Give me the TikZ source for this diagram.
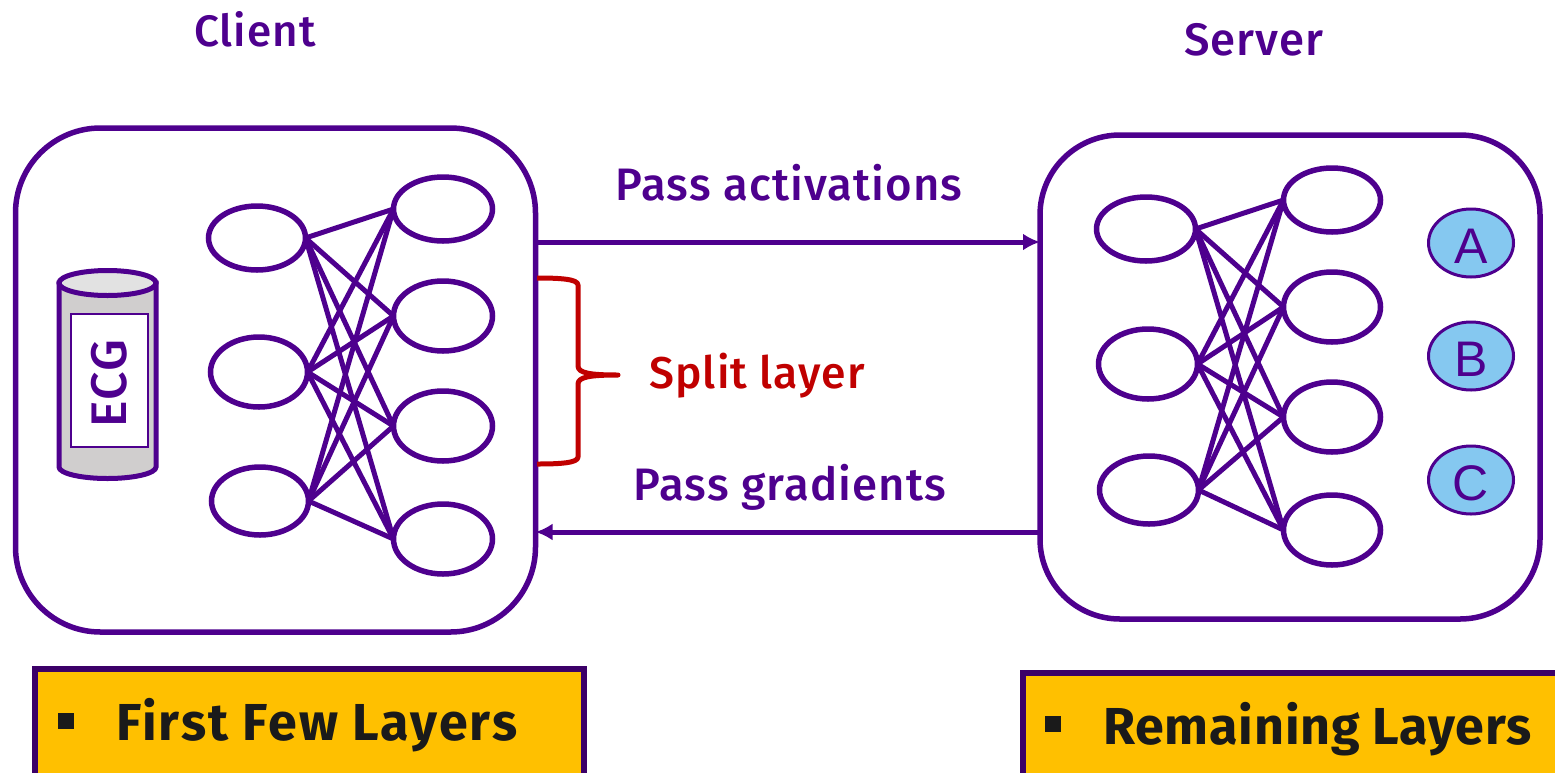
\documentclass[tikz,border=0pt]{standalone}
\usepackage{fontspec}
\setmainfont{Fira Sans Medium}[LetterSpace=2.5,BoldFont={Fira Sans Bold}]
\newfontfamily\arialf{Liberation Sans}
\newfontfamily\banA{Fira Sans Bold}[LetterSpace=4]
\newfontfamily\banB{Fira Sans Bold}[LetterSpace=1.5]
\definecolor{vio}{HTML}{4E008E}
\definecolor{dvio}{HTML}{3C0068}
\definecolor{gold}{HTML}{FFC000}
\definecolor{skyb}{HTML}{85C8F0}
\definecolor{redb}{HTML}{C00000}
\definecolor{ink}{HTML}{1A1A1A}
\definecolor{cylg}{HTML}{D0CECE}
\definecolor{cylt}{HTML}{E2E2E2}
\usetikzlibrary{shapes.geometric,arrows.meta}
\tikzset{
 x=1pt,y=-1pt,
 panel/.style={draw=vio,line width=5.5pt,rounded corners=85pt,fill=white,inner sep=0pt,outer sep=0pt},
 neuron/.style={draw=vio,line width=5.5pt,ellipse,fill=white,inner sep=0pt,outer sep=0pt},
 link/.style={draw=vio,line width=5pt},
 flow/.style={draw=vio,line width=5pt,-{Latex[length=17pt,width=17pt]},shorten >=0pt},
 cls/.style={draw=vio,line width=3pt,ellipse,fill=skyb,inner sep=0pt,minimum width=85pt,minimum height=68pt,text=vio,font=\arialf\fontsize{50}{50}\selectfont},
 lbl/.style={text=vio,inner sep=0pt,font=\fontsize{45.5}{46}\selectfont},
 banner/.style={draw=dvio,line width=6pt,fill=gold,inner sep=0pt},
 bannertxt/.style={text=ink,inner sep=0pt,anchor=base west},
 bullet/.style={fill=ink,inner sep=0pt,minimum size=16pt},
}
\begin{document}
\begin{tikzpicture}
\useasboundingbox (0,0) rectangle (1555,772);
\clip (0,0) rectangle (1555,772);
% titles
\node[lbl,font=\fontsize{44}{46}\selectfont] (tclient) at (255,29) {Client};
\node[lbl] (tserver) at (1254,40) {Server};
% panels
\node[panel,minimum width=520pt,minimum height=504pt] (client) at (275.5,380) {};
\node[panel,minimum width=500pt,minimum height=484pt,rounded corners=80pt] (server) at (1290,377) {};
% cylinder
\filldraw[draw=vio,line width=5pt,fill=cylg] (59,283) -- (59,467) arc[start angle=180,end angle=360,x radius=48.5,y radius=-11.5] -- (156,283) -- cycle;
\filldraw[draw=vio,line width=5pt,fill=cylt] (107.5,283) ellipse[x radius=48.5,y radius=12.5];
\node[draw=vio,line width=1.5pt,fill=white,minimum width=77pt,minimum height=133pt,inner sep=0pt] (ecgbox) at (109.5,380.5) {};
\node[text=vio,rotate=90,inner sep=0pt,font=\fontsize{50}{50}\selectfont] (ecg) at (109.5,383.5) {ECG};
% client net
\node[neuron,minimum width=97pt,minimum height=64pt] (c1) at (257,238) {};
\node[neuron,minimum width=97pt,minimum height=70pt] (c2) at (259,372) {};
\node[neuron,minimum width=97pt,minimum height=68pt] (c3) at (260,501) {};
\node[neuron,minimum width=99pt,minimum height=64pt] (d1) at (443,209) {};
\node[neuron,minimum width=99pt,minimum height=70pt] (d2) at (443,316) {};
\node[neuron,minimum width=99pt,minimum height=70pt] (d3) at (443,426) {};
\node[neuron,minimum width=99pt,minimum height=70pt] (d4) at (443,539) {};
\foreach \a in {c1,c2,c3}\foreach \b in {d1,d2,d3,d4}{\draw[link] (\a.east) -- (\b.west);}
% server net
\node[neuron,minimum width=99pt,minimum height=64pt] (s1) at (1146,229) {};
\node[neuron,minimum width=99pt,minimum height=70pt] (s2) at (1148,364) {};
\node[neuron,minimum width=99pt,minimum height=68pt] (s3) at (1149,490) {};
\node[neuron,minimum width=97pt,minimum height=64pt] (t1) at (1332,200) {};
\node[neuron,minimum width=97pt,minimum height=70pt] (t2) at (1332,307) {};
\node[neuron,minimum width=97pt,minimum height=70pt] (t3) at (1332,417) {};
\node[neuron,minimum width=97pt,minimum height=70pt] (t4) at (1332,530) {};
\foreach \a in {s1,s2,s3}\foreach \b in {t1,t2,t3,t4}{\draw[link] (\a.east) -- (\b.west);}
% classes
\node[cls] (ca) at (1471,243) {\raisebox{-2pt}[36pt][0pt]{A}};
\node[cls] (cb) at (1471,356) {\raisebox{-2pt}[36pt][0pt]{B}};
\node[cls] (cc) at (1471,480) {\raisebox{-2pt}[36pt][0pt]{C}};
% flows
\draw[flow] ([yshift=138pt]client.east) -- ([yshift=135pt]server.west);
\draw[flow] ([yshift=-155pt]server.west) -- ([yshift=-152pt]client.east);
\node[lbl] (pa) at (789,183) {Pass activations};
\node[lbl] (pg) at (790,487) {Pass gradients};
% brace
\draw[redb,line width=5pt,line join=round] (537,278) .. controls (560,278) and (578,279) .. (578,285)
  -- (578,366) .. controls (578,373) and (590,375) .. (618,375)
  .. controls (590,375) and (578,377) .. (578,384)
  -- (578,457) .. controls (578,463) and (560,464) .. (537,464);
\node[text=redb,inner sep=0pt,font=\fontsize{44.5}{46}\selectfont] (split) at (757,376) {Split layer};
% banners
\node[banner,minimum width=549pt,minimum height=130pt,anchor=north west] (b1) at (32,666) {};
\node[banner,minimum width=620pt,minimum height=130pt,anchor=north west] (b2) at (1020,670) {};
\node[bullet] (k1) at (66,721) {};
\node[bullet] (k2) at (1053,724) {};
\node[bannertxt,font=\banA\fontsize{52}{52}\selectfont] (f1) at (116,740) {First Few Layers};
\node[bannertxt,font=\banB\fontsize{52}{52}\selectfont] (f2) at (1103,744) {Remaining Layers};
\end{tikzpicture}
\end{document}
